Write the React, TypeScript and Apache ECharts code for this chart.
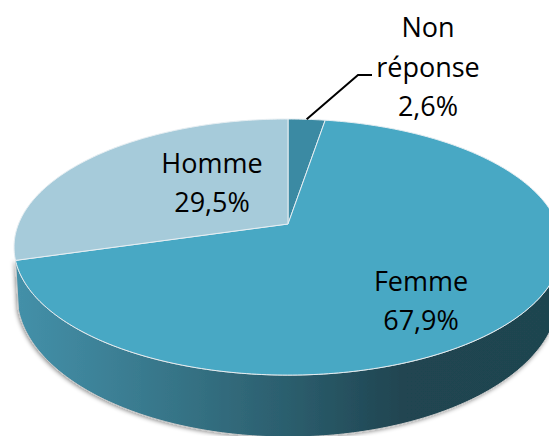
import React, { useEffect, useRef } from "react";
import * as echarts from "echarts";

const categories = ["Non réponse", "Femme", "Homme"];
const labelLines = [["Non", "réponse"], ["Femme"], ["Homme"]];
const shares = [2.6, 67.9, 29.5];
const sliceColors = ["#3b8aa3", "#48a8c4", "#a6cbda"];

const WIDTH = 549;
const HEIGHT = 436;
const topDisk = { cx: 288, cy: 224, a: 123.9, b: 269.5, k: 0.18 };
const lowDisk = { cx: 288, cy: 269.4, a: 137.4, b: 266.6, k: 0.18 };
const labelCentres = [[428, 66], [421, 300], [212, 182]];
const leaderElbow = [[358, 75], [372, 75]];

type Disk = typeof topDisk;

function project(d: Disk, share: number): [number, number] {
  const t = (share / 100) * Math.PI * 2;
  const u = Math.sin(t);
  const v = Math.cos(t);
  const w = 1 + d.k * v;
  return [d.cx + (d.b * u) / w, d.cy - (d.a * v) / w];
}

function rim(d: Disk, from: number, to: number): [number, number][] {
  const n = Math.max(2, Math.ceil((to - from) * 4));
  const pts: [number, number][] = [];
  for (let i = 0; i <= n; i++) pts.push(project(d, from + ((to - from) * i) / n));
  return pts;
}

const starts = shares.map((_, i) => shares.slice(0, i).reduce((s, x) => s + x, 0));

function renderSlice(params: any, api: any) {
  const i = params.dataIndex;
  const share = api.value(0);
  const from = starts[i];
  const to = from + share;
  const children: any[] = [];

  // the visible outer wall belongs to the largest slice
  if (share === Math.max(...shares)) {
    const wallFrom = Math.max(from, 24);
    const upper = rim(topDisk, wallFrom, to);
    const lower = rim(lowDisk, wallFrom, to).reverse();
    children.push({
      type: "polygon",
      shape: { points: [...upper, ...lower] },
      style: {
        fill: new echarts.graphic.LinearGradient(
          0, 0, WIDTH, 0,
          [
            { offset: 0, color: "#4593ac" },
            { offset: 0.18, color: "#3d8298" },
            { offset: 0.36, color: "#347082" },
            { offset: 0.55, color: "#2a5b6a" },
            { offset: 0.73, color: "#204551" },
            { offset: 1, color: "#1f4450" },
          ],
          true
        ),
        stroke: "#c9c9c9",
        lineWidth: 1,
        shadowBlur: 4,
        shadowColor: "rgba(0,0,0,0.45)",
        shadowOffsetX: -1,
        shadowOffsetY: 1,
      },
    });
  }

  children.push({
    type: "polygon",
    shape: { points: [[topDisk.cx, topDisk.cy], ...rim(topDisk, from, to)] },
    style: { fill: sliceColors[i], stroke: "#e6eef2", lineWidth: 1 },
  });

  if (share < 5) {
    const anchor = project(topDisk, from + share / 2);
    children.push({
      type: "polyline",
      shape: { points: [anchor, ...leaderElbow] },
      style: { fill: "none", stroke: "#000000", lineWidth: 2 },
    });
  }
  return { type: "group", children };
}

function renderLabel(params: any, api: any) {
  const i = params.dataIndex;
  const text = [...labelLines[i], api.value(0).toFixed(1).replace(".", ",") + "%"].join("\n");
  return {
    type: "text",
    z2: 10,
    style: {
      text,
      x: labelCentres[i][0],
      y: labelCentres[i][1],
      textAlign: "center",
      textVerticalAlign: "middle",
      fontFamily: "Open Sans",
      fontSize: 27,
      lineHeight: 39.5,
      fill: "#000000",
    },
  };
}

export default function App() {
  const ref = useRef<HTMLDivElement>(null);
  useEffect(() => {
    document.body.style.margin = "0";
    const chart = echarts.init(ref.current!, null, { renderer: "svg" });
    const rows = shares.map((v, i) => ({ name: categories[i], value: [v] }));
    chart.setOption({
      animation: false,
      series: [
        { type: "custom", coordinateSystem: "none", silent: true, renderItem: renderSlice, data: rows, clip: false },
        { type: "custom", coordinateSystem: "none", silent: true, renderItem: renderLabel, data: rows, z: 5 },
      ],
    });
    return () => chart.dispose();
  }, []);
  return <div ref={ref} style={{ width: WIDTH, height: HEIGHT, overflow: "hidden" }} />;
}
